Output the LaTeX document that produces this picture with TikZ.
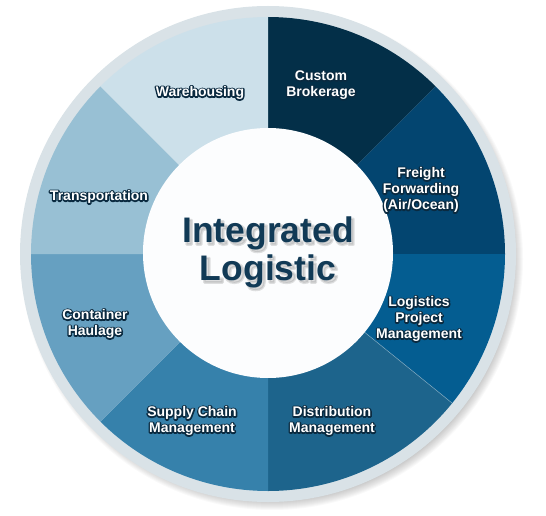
\documentclass[tikz,border=0pt]{standalone}
\usepackage{fontspec}
\setmainfont{Liberation Sans}
\definecolor{cWare}{HTML}{CCE0EA}
\definecolor{cTrans}{HTML}{98C0D4}
\definecolor{cCont}{HTML}{66A0C1}
\definecolor{cSupply}{HTML}{3681AB}
\definecolor{cDist}{HTML}{1D648C}
\definecolor{cLog}{HTML}{045D91}
\definecolor{cFreight}{HTML}{034570}
\definecolor{cCustom}{HTML}{032F48}
\definecolor{ringc}{HTML}{D9E2E7}
\definecolor{ctrtext}{HTML}{113A56}
\definecolor{hub}{HTML}{FCFDFE}
% text outline through the PDF text render mode
\newcommand\strokeon[3]{\special{pdf:literal direct #1 RG #2 w 1 j #3 Tr}}
\newcommand\strokeoff{\special{pdf:literal direct 0 Tr}}
\tikzset{
  lbl/.style={font=\bfseries\fontsize{14}{16}\selectfont, align=center, inner sep=0pt, text=white},
  ctr/.style={font=\bfseries\fontsize{35.5}{38}\selectfont, inner sep=0pt, anchor=base},
}
\newcommand\olabel[3]{%
  \node[lbl,text=black] (#1o) at (#2) {\strokeon{0.039 0.165 0.251}{2.8}{1}#3\strokeoff};
  \node[lbl] (#1) at (#2) {#3};
}
\newcommand\ctrlabel[3]{%
  \node[ctr,text=black!55,opacity=0.22,shift={(2pt,-2.5pt)}] (#1s) at (#2) {\strokeon{0.45 0.45 0.45}{2.5}{2}#3\strokeoff};
  \node[ctr,text=ctrtext] (#1) at (#2) {#3};
}
\begin{document}
\begin{tikzpicture}[x=1pt,y=1pt]
\useasboundingbox (0,0) rectangle (546,515);
\coordinate (C) at (268,261);
% shadow of the ring
\foreach \i in {0,...,11}{\fill[black,opacity=0.022] ([shift={(4,-5)}]C) circle[radius={(240+\i)*1pt}];}
% ring
\fill[ringc] (C) circle[radius=248pt];
% segments
\fill[cCustom]  (C) -- ++(90:237pt)   arc[start angle=90,  end angle=45,   radius=237pt] -- cycle;
\fill[cFreight] (C) -- ++(45:237pt)   arc[start angle=45,  end angle=0,    radius=237pt] -- cycle;
\fill[cLog]     (C) -- ++(0:237pt)    arc[start angle=0,   end angle=-39,  radius=237pt] -- cycle;
\fill[cDist]    (C) -- ++(-39:237pt)  arc[start angle=-39, end angle=-90,  radius=237pt] -- cycle;
\fill[cSupply]  (C) -- ++(-90:237pt)  arc[start angle=-90, end angle=-135, radius=237pt] -- cycle;
\fill[cCont]    (C) -- ++(-135:237pt) arc[start angle=-135,end angle=-180, radius=237pt] -- cycle;
\fill[cTrans]   (C) -- ++(180:237pt)  arc[start angle=180, end angle=135,  radius=237pt] -- cycle;
\fill[cWare]    (C) -- ++(135:237pt)  arc[start angle=135, end angle=90,   radius=237pt] -- cycle;
\draw[white,opacity=0.35,line width=0.6pt] (C) -- ++(-39:237pt);
% hub
\fill[hub] (268,262) circle[radius=125pt];
% labels
\olabel{ware}{200,422}{Warehousing}
\olabel{cust}{321,430}{Custom\\Brokerage}
\olabel{frei}{421,325}{Freight\\Forwarding\\(Air/Ocean)}
\olabel{trans}{99,318}{Transportation}
\olabel{cont}{95,191}{Container\\Haulage}
\olabel{logp}{419,196}{Logistics\\Project\\Management}
\olabel{supp}{192,94}{Supply Chain\\Management}
\olabel{dist}{332,94}{Distribution\\Management}
\ctrlabel{integ}{268,273}{Integrated}
\ctrlabel{logi}{268,235}{Logistic}
\end{tikzpicture}
\end{document}
